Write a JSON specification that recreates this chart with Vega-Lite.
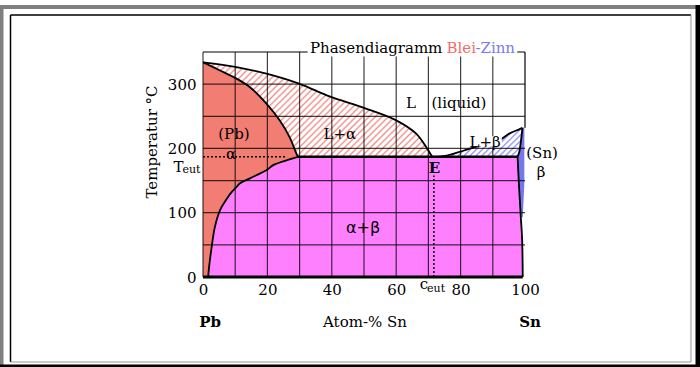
{
 "$schema": "https://vega.github.io/schema/vega-lite/v6.json",
 "width": 322, "height": 225,
 "autosize": {"type": "none"},
 "padding": {"left": 203, "top": 52, "right": 175, "bottom": 90},
 "background": "#ffffff",
 "config": {
  "view": {"stroke": null},
  "text": {"font": "DejaVu Serif", "fontSize": 15, "color": "#000", "baseline": "middle"},
  "axis": {"title": null, "domain": false, "ticks": false, "grid": false, "labelFont": "DejaVu Serif", "labelFontSize": 15, "labelColor": "#000", "labelFlush": false, "labelOverlap": false},
  "axisX": {"labelPadding": 5},
  "axisY": {"labelPadding": 7}
 },
 "encoding": {
  "x": {"field": "x", "type": "quantitative", "scale": {"domain": [0, 100], "nice": false, "zero": false}, "axis": {"values": [0, 20, 40, 60, 80, 100], "labelOverlap": false}},
  "y": {"field": "y", "type": "quantitative", "scale": {"domain": [0, 350], "nice": false, "zero": false}, "axis": {"values": [0, 100, 200, 300], "labelOverlap": false}}
 },
 "datasets": {
  "polys": [
   {"r":"a","x":0,"y":0},{"r":"a","x":0,"y":334},{"r":"a","x":5,"y":322},{"r":"a","x":10.4,"y":308.6},{"r":"a","x":14.5,"y":295.5},{"r":"a","x":19.7,"y":269.7},{"r":"a","x":23.8,"y":243.7},{"r":"a","x":26.9,"y":217.7},{"r":"a","x":29,"y":192},{"r":"a","x":29.5,"y":187},{"r":"a","x":25.9,"y":181.5},{"r":"a","x":21.8,"y":174},{"r":"a","x":19.8,"y":166.4},{"r":"a","x":14.6,"y":153.5},{"r":"a","x":11.5,"y":145.8},{"r":"a","x":10.5,"y":140.5},{"r":"a","x":8.4,"y":129},{"r":"a","x":6.8,"y":117},{"r":"a","x":5.3,"y":104},{"r":"a","x":3.7,"y":78},{"r":"a","x":2.7,"y":47},{"r":"a","x":1.9,"y":16},{"r":"a","x":1.6,"y":0},
   {"r":"ab","x":29.5,"y":187},{"r":"ab","x":97.7,"y":187},{"r":"ab","x":98.1,"y":145},{"r":"ab","x":98.7,"y":93},{"r":"ab","x":99.1,"y":60},{"r":"ab","x":99.3,"y":0},{"r":"ab","x":1.6,"y":0},{"r":"ab","x":1.9,"y":16},{"r":"ab","x":2.7,"y":47},{"r":"ab","x":3.7,"y":78},{"r":"ab","x":5.3,"y":104},{"r":"ab","x":6.8,"y":117},{"r":"ab","x":8.4,"y":129},{"r":"ab","x":10.5,"y":140.5},{"r":"ab","x":11.5,"y":145.8},{"r":"ab","x":14.6,"y":153.5},{"r":"ab","x":19.8,"y":166.4},{"r":"ab","x":21.8,"y":174},{"r":"ab","x":25.9,"y":181.5},
   {"r":"b","x":99.2,"y":232},{"r":"b","x":99.8,"y":233},{"r":"b","x":99.8,"y":190},{"r":"b","x":99.8,"y":145},{"r":"b","x":99.3,"y":93},{"r":"b","x":98.7,"y":93},{"r":"b","x":98.1,"y":145},{"r":"b","x":97.7,"y":187},{"r":"b","x":98.2,"y":194},{"r":"b","x":98.7,"y":210},
   {"r":"la","x":0,"y":334},{"r":"la","x":10.4,"y":326.6},{"r":"la","x":19.7,"y":316.3},{"r":"la","x":30,"y":300.5},{"r":"la","x":39.3,"y":281},{"r":"la","x":50,"y":263},{"r":"la","x":60,"y":243.7},{"r":"la","x":66.2,"y":223},{"r":"la","x":69.3,"y":202.2},{"r":"la","x":70.8,"y":190},{"r":"la","x":71.3,"y":187},{"r":"la","x":29.5,"y":187},{"r":"la","x":29,"y":192},{"r":"la","x":26.9,"y":217.7},{"r":"la","x":23.8,"y":243.7},{"r":"la","x":19.7,"y":269.7},{"r":"la","x":14.5,"y":295.5},{"r":"la","x":10.4,"y":308.6},{"r":"la","x":5,"y":322},
   {"r":"lb","x":71.3,"y":187},{"r":"lb","x":75.3,"y":188.5},{"r":"lb","x":80.6,"y":196},{"r":"lb","x":86,"y":204.5},{"r":"lb","x":92,"y":212.6},{"r":"lb","x":95.1,"y":223},{"r":"lb","x":98.2,"y":229.7},{"r":"lb","x":99.2,"y":232},{"r":"lb","x":98.7,"y":210},{"r":"lb","x":98.2,"y":194},{"r":"lb","x":97.7,"y":187}
  ],
  "curves": [
   {"c":"LL","x":0,"y":334},{"c":"LL","x":10.4,"y":326.6},{"c":"LL","x":19.7,"y":316.3},{"c":"LL","x":30,"y":300.5},{"c":"LL","x":39.3,"y":281},{"c":"LL","x":50,"y":263},{"c":"LL","x":60,"y":243.7},{"c":"LL","x":66.2,"y":223},{"c":"LL","x":69.3,"y":202.2},{"c":"LL","x":70.8,"y":190},{"c":"LL","x":71.3,"y":187},
   {"c":"S","x":0,"y":334},{"c":"S","x":5,"y":322},{"c":"S","x":10.4,"y":308.6},{"c":"S","x":14.5,"y":295.5},{"c":"S","x":19.7,"y":269.7},{"c":"S","x":23.8,"y":243.7},{"c":"S","x":26.9,"y":217.7},{"c":"S","x":29,"y":192},{"c":"S","x":29.5,"y":187},
   {"c":"SV","x":29.5,"y":187},{"c":"SV","x":25.9,"y":181.5},{"c":"SV","x":21.8,"y":174},{"c":"SV","x":19.8,"y":166.4},{"c":"SV","x":14.6,"y":153.5},{"c":"SV","x":11.5,"y":145.8},{"c":"SV","x":10.5,"y":140.5},{"c":"SV","x":8.4,"y":129},{"c":"SV","x":6.8,"y":117},{"c":"SV","x":5.3,"y":104},{"c":"SV","x":3.7,"y":78},{"c":"SV","x":2.7,"y":47},{"c":"SV","x":1.9,"y":16},{"c":"SV","x":1.6,"y":0},
   {"c":"RL","x":71.3,"y":187},{"c":"RL","x":75.3,"y":188.5},{"c":"RL","x":80.6,"y":196},{"c":"RL","x":86,"y":204.5},{"c":"RL","x":92,"y":212.6},{"c":"RL","x":95.1,"y":223},{"c":"RL","x":98.2,"y":229.7},{"c":"RL","x":99.2,"y":232},
   {"c":"BS","x":99.2,"y":232},{"c":"BS","x":98.7,"y":210},{"c":"BS","x":98.2,"y":194},{"c":"BS","x":97.7,"y":187},
   {"c":"BV","x":97.7,"y":187},{"c":"BV","x":98.1,"y":145},{"c":"BV","x":98.7,"y":93},{"c":"BV","x":99.1,"y":60},{"c":"BV","x":99.3,"y":0}
  ],
  "eut": [{"x":29.5,"y":187},{"x":97.7,"y":187}],
  "vrules": [
   {"k":"g","x":0,"y":0,"y2":350},{"k":"g","x":10,"y":0,"y2":350},{"k":"g","x":20,"y":0,"y2":350},{"k":"g","x":30,"y":0,"y2":350},{"k":"g","x":40,"y":0,"y2":350},{"k":"g","x":50,"y":0,"y2":350},{"k":"g","x":60,"y":0,"y2":350},{"k":"g","x":70,"y":0,"y2":350},{"k":"g","x":80,"y":0,"y2":350},{"k":"g","x":90,"y":0,"y2":350},
   {"k":"border","x":100,"y":232,"y2":350},
   {"k":"dot","x":71.7,"y":0,"y2":158},
   {"k":"outerGray","x":-62.5,"y":-140,"y2":423.1},
   {"k":"outerBlack","x":153.65,"y":-140,"y2":423.1},
   {"k":"innerBlack","x":-59.78,"y":-132.2,"y2":407.6},
   {"k":"innerGray","x":151.55,"y":-132.2,"y2":407.6}
  ],
  "hrules": [
   {"k":"g","y":50,"x":0,"x2":100},{"k":"g","y":100,"x":0,"x2":100},{"k":"g","y":150,"x":0,"x2":100},{"k":"g","y":200,"x":0,"x2":100},{"k":"g","y":250,"x":0,"x2":100},{"k":"g","y":300,"x":0,"x2":100},
   {"k":"border","y":350,"x":0,"x2":100},
   {"k":"axis","y":0,"x":0,"x2":99.3},
   {"k":"dot","y":187,"x":0,"x2":26},
   {"k":"outerGray","y":420,"x":-63.04,"x2":153.1},
   {"k":"outerBlack","y":-138.06,"x":-63.04,"x2":154.4},
   {"k":"innerBlack","y":407.6,"x":-59.78,"x2":151.55},
   {"k":"innerGray","y":-132.2,"x":-59.78,"x2":151.55}
  ],
  "boxes": [{"x":32.5,"x2":97.6,"y":343,"y2":368},{"x":82.2,"x2":92.8,"y":203,"y2":219}],
  "lbl": [
   {"g":"s","t":"(Pb)","x":9.6,"y":222.4},
   {"g":"s","t":"α","x":8.7,"y":191.3},
   {"g":"s","t":"L+α","x":42.5,"y":223.2},
   {"g":"s","t":"L","x":64.6,"y":271.4},
   {"g":"s","t":"(liquid)","x":79.5,"y":271.4},
   {"g":"s","t":"L+β","x":87.6,"y":210.5},
   {"g":"s","t":"(Sn)","x":105.3,"y":192.9},
   {"g":"s","t":"β","x":105,"y":162.6},
   {"g":"s","t":"T","x":-7.6,"y":171.1},
   {"g":"s","t":"c","x":68.6,"y":-10.9},
   {"g":"e","t":"eut","x":-6.4,"y":167.2},
   {"g":"e","t":"eut","x":69.6,"y":-18.7},
   {"g":"b","t":"E","x":71.9,"y":170.3},
   {"g":"b","t":"Pb","x":2.2,"y":-70},
   {"g":"b","t":"Sn","x":101.6,"y":-70},
   {"g":"n","t":"Atom-% Sn","x":50.3,"y":-70},
   {"g":"ss","t":"α+β","x":49.7,"y":77},
   {"g":"yt","t":"Temperatur °C","x":-15.8,"y":210},
   {"g":"t0","t":"Phasendiagramm","x":33.2,"y":356.2},
   {"g":"t1","t":"Blei","x":75.6,"y":356.2},
   {"g":"t2","t":"-Zinn","x":84.6,"y":356.2}
  ]
 },
 "layer": [
  {"data": {"name": "polys"}, "transform": [{"filter": "datum.r === 'a'"}], "mark": {"type": "line", "fill": "#f27d72", "strokeOpacity": 0}, "encoding": {"order": {"value": null}}},
  {"data": {"name": "polys"}, "transform": [{"filter": "datum.r === 'ab'"}], "mark": {"type": "line", "fill": "#ff80ff", "strokeOpacity": 0}, "encoding": {"order": {"value": null}}},
  {"data": {"name": "polys"}, "transform": [{"filter": "datum.r === 'b'"}], "mark": {"type": "line", "fill": "#7676ee", "strokeOpacity": 0}, "encoding": {"order": {"value": null}}},
  {"data": {"name": "polys"}, "transform": [{"filter": "datum.r === 'la'"}], "mark": {"type": "line", "strokeOpacity": 0, "fill": {"gradient": "linear", "x1": 0, "y1": 0, "x2": 1.207, "y2": 0.497, "stops": [
   {"offset":0,"color":"#ef8f89"},{"offset":0.006,"color":"#fff"},{"offset":0.014,"color":"#fff"},
   {"offset":0.02,"color":"#ef8f89"},{"offset":0.026,"color":"#fff"},{"offset":0.034,"color":"#fff"},
   {"offset":0.04,"color":"#ef8f89"},{"offset":0.046,"color":"#fff"},{"offset":0.054,"color":"#fff"},
   {"offset":0.06,"color":"#ef8f89"},{"offset":0.066,"color":"#fff"},{"offset":0.074,"color":"#fff"},
   {"offset":0.08,"color":"#ef8f89"},{"offset":0.086,"color":"#fff"},{"offset":0.094,"color":"#fff"},
   {"offset":0.1,"color":"#ef8f89"},{"offset":0.106,"color":"#fff"},{"offset":0.114,"color":"#fff"},
   {"offset":0.12,"color":"#ef8f89"},{"offset":0.126,"color":"#fff"},{"offset":0.134,"color":"#fff"},
   {"offset":0.14,"color":"#ef8f89"},{"offset":0.146,"color":"#fff"},{"offset":0.154,"color":"#fff"},
   {"offset":0.16,"color":"#ef8f89"},{"offset":0.166,"color":"#fff"},{"offset":0.174,"color":"#fff"},
   {"offset":0.18,"color":"#ef8f89"},{"offset":0.186,"color":"#fff"},{"offset":0.194,"color":"#fff"},
   {"offset":0.2,"color":"#ef8f89"},{"offset":0.206,"color":"#fff"},{"offset":0.214,"color":"#fff"},
   {"offset":0.22,"color":"#ef8f89"},{"offset":0.226,"color":"#fff"},{"offset":0.234,"color":"#fff"},
   {"offset":0.24,"color":"#ef8f89"},{"offset":0.246,"color":"#fff"},{"offset":0.254,"color":"#fff"},
   {"offset":0.26,"color":"#ef8f89"},{"offset":0.266,"color":"#fff"},{"offset":0.274,"color":"#fff"},
   {"offset":0.28,"color":"#ef8f89"},{"offset":0.286,"color":"#fff"},{"offset":0.294,"color":"#fff"},
   {"offset":0.3,"color":"#ef8f89"},{"offset":0.306,"color":"#fff"},{"offset":0.314,"color":"#fff"},
   {"offset":0.32,"color":"#ef8f89"},{"offset":0.326,"color":"#fff"},{"offset":0.334,"color":"#fff"},
   {"offset":0.34,"color":"#ef8f89"},{"offset":0.346,"color":"#fff"},{"offset":0.354,"color":"#fff"},
   {"offset":0.36,"color":"#ef8f89"},{"offset":0.366,"color":"#fff"},{"offset":0.374,"color":"#fff"},
   {"offset":0.38,"color":"#ef8f89"},{"offset":0.386,"color":"#fff"},{"offset":0.394,"color":"#fff"},
   {"offset":0.4,"color":"#ef8f89"},{"offset":0.406,"color":"#fff"},{"offset":0.414,"color":"#fff"},
   {"offset":0.42,"color":"#ef8f89"},{"offset":0.426,"color":"#fff"},{"offset":0.434,"color":"#fff"},
   {"offset":0.44,"color":"#ef8f89"},{"offset":0.446,"color":"#fff"},{"offset":0.454,"color":"#fff"},
   {"offset":0.46,"color":"#ef8f89"},{"offset":0.466,"color":"#fff"},{"offset":0.474,"color":"#fff"},
   {"offset":0.48,"color":"#ef8f89"},{"offset":0.486,"color":"#fff"},{"offset":0.494,"color":"#fff"},
   {"offset":0.5,"color":"#ef8f89"},{"offset":0.506,"color":"#fff"},{"offset":0.514,"color":"#fff"},
   {"offset":0.52,"color":"#ef8f89"},{"offset":0.526,"color":"#fff"},{"offset":0.534,"color":"#fff"},
   {"offset":0.54,"color":"#ef8f89"},{"offset":0.546,"color":"#fff"},{"offset":0.554,"color":"#fff"},
   {"offset":0.56,"color":"#ef8f89"},{"offset":0.566,"color":"#fff"},{"offset":0.574,"color":"#fff"},
   {"offset":0.58,"color":"#ef8f89"},{"offset":0.586,"color":"#fff"},{"offset":0.594,"color":"#fff"},
   {"offset":0.6,"color":"#ef8f89"},{"offset":0.606,"color":"#fff"},{"offset":0.614,"color":"#fff"},
   {"offset":0.62,"color":"#ef8f89"},{"offset":0.626,"color":"#fff"},{"offset":0.634,"color":"#fff"},
   {"offset":0.64,"color":"#ef8f89"},{"offset":0.646,"color":"#fff"},{"offset":0.654,"color":"#fff"},
   {"offset":0.66,"color":"#ef8f89"},{"offset":0.666,"color":"#fff"},{"offset":0.674,"color":"#fff"},
   {"offset":0.68,"color":"#ef8f89"},{"offset":0.686,"color":"#fff"},{"offset":0.694,"color":"#fff"},
   {"offset":0.7,"color":"#ef8f89"},{"offset":0.706,"color":"#fff"},{"offset":0.714,"color":"#fff"},
   {"offset":0.72,"color":"#ef8f89"},{"offset":0.726,"color":"#fff"},{"offset":0.734,"color":"#fff"},
   {"offset":0.74,"color":"#ef8f89"},{"offset":0.746,"color":"#fff"},{"offset":0.754,"color":"#fff"},
   {"offset":0.76,"color":"#ef8f89"},{"offset":0.766,"color":"#fff"},{"offset":0.774,"color":"#fff"},
   {"offset":0.78,"color":"#ef8f89"},{"offset":0.786,"color":"#fff"},{"offset":0.794,"color":"#fff"},
   {"offset":0.8,"color":"#ef8f89"},{"offset":0.806,"color":"#fff"},{"offset":0.814,"color":"#fff"},
   {"offset":0.82,"color":"#ef8f89"},{"offset":0.826,"color":"#fff"},{"offset":0.834,"color":"#fff"},
   {"offset":0.84,"color":"#ef8f89"},{"offset":0.846,"color":"#fff"},{"offset":0.854,"color":"#fff"},
   {"offset":0.86,"color":"#ef8f89"},{"offset":0.866,"color":"#fff"},{"offset":0.874,"color":"#fff"},
   {"offset":0.88,"color":"#ef8f89"},{"offset":0.886,"color":"#fff"},{"offset":0.894,"color":"#fff"},
   {"offset":0.9,"color":"#ef8f89"},{"offset":0.906,"color":"#fff"},{"offset":0.914,"color":"#fff"},
   {"offset":0.92,"color":"#ef8f89"},{"offset":0.926,"color":"#fff"},{"offset":0.934,"color":"#fff"},
   {"offset":0.94,"color":"#ef8f89"},{"offset":0.946,"color":"#fff"},{"offset":0.954,"color":"#fff"},
   {"offset":0.96,"color":"#ef8f89"},{"offset":0.966,"color":"#fff"},{"offset":0.974,"color":"#fff"},
   {"offset":0.98,"color":"#ef8f89"},{"offset":0.986,"color":"#fff"},{"offset":0.994,"color":"#fff"},
   {"offset":1,"color":"#ef8f89"}
  ]}}, "encoding": {"order": {"value": null}}},
  {"data": {"name": "polys"}, "transform": [{"filter": "datum.r === 'lb'"}], "mark": {"type": "line", "strokeOpacity": 0, "fill": {"gradient": "linear", "x1": 0, "y1": 0, "x2": 1.198, "y2": 0.386, "stops": [
   {"offset":0,"color":"#8a8af0"},{"offset":0.015,"color":"#fff"},{"offset":0.035,"color":"#fff"},
   {"offset":0.05,"color":"#8a8af0"},{"offset":0.065,"color":"#fff"},{"offset":0.085,"color":"#fff"},
   {"offset":0.1,"color":"#8a8af0"},{"offset":0.115,"color":"#fff"},{"offset":0.135,"color":"#fff"},
   {"offset":0.15,"color":"#8a8af0"},{"offset":0.165,"color":"#fff"},{"offset":0.185,"color":"#fff"},
   {"offset":0.2,"color":"#8a8af0"},{"offset":0.215,"color":"#fff"},{"offset":0.235,"color":"#fff"},
   {"offset":0.25,"color":"#8a8af0"},{"offset":0.265,"color":"#fff"},{"offset":0.285,"color":"#fff"},
   {"offset":0.3,"color":"#8a8af0"},{"offset":0.315,"color":"#fff"},{"offset":0.335,"color":"#fff"},
   {"offset":0.35,"color":"#8a8af0"},{"offset":0.365,"color":"#fff"},{"offset":0.385,"color":"#fff"},
   {"offset":0.4,"color":"#8a8af0"},{"offset":0.415,"color":"#fff"},{"offset":0.435,"color":"#fff"},
   {"offset":0.45,"color":"#8a8af0"},{"offset":0.465,"color":"#fff"},{"offset":0.485,"color":"#fff"},
   {"offset":0.5,"color":"#8a8af0"},{"offset":0.515,"color":"#fff"},{"offset":0.535,"color":"#fff"},
   {"offset":0.55,"color":"#8a8af0"},{"offset":0.565,"color":"#fff"},{"offset":0.585,"color":"#fff"},
   {"offset":0.6,"color":"#8a8af0"},{"offset":0.615,"color":"#fff"},{"offset":0.635,"color":"#fff"},
   {"offset":0.65,"color":"#8a8af0"},{"offset":0.665,"color":"#fff"},{"offset":0.685,"color":"#fff"},
   {"offset":0.7,"color":"#8a8af0"},{"offset":0.715,"color":"#fff"},{"offset":0.735,"color":"#fff"},
   {"offset":0.75,"color":"#8a8af0"},{"offset":0.765,"color":"#fff"},{"offset":0.785,"color":"#fff"},
   {"offset":0.8,"color":"#8a8af0"},{"offset":0.815,"color":"#fff"},{"offset":0.835,"color":"#fff"},
   {"offset":0.85,"color":"#8a8af0"},{"offset":0.865,"color":"#fff"},{"offset":0.885,"color":"#fff"},
   {"offset":0.9,"color":"#8a8af0"},{"offset":0.915,"color":"#fff"},{"offset":0.935,"color":"#fff"},
   {"offset":0.95,"color":"#8a8af0"},{"offset":0.965,"color":"#fff"},{"offset":0.985,"color":"#fff"},
   {"offset":1,"color":"#8a8af0"}
  ]}}, "encoding": {"order": {"value": null}}},
  {"data": {"name": "vrules"}, "transform": [{"filter": "datum.k === 'g'"}], "mark": {"type": "rule", "color": "#000", "strokeWidth": 1.2, "strokeOpacity": 0.75}, "encoding": {"y2": {"field": "y2"}}},
  {"data": {"name": "hrules"}, "transform": [{"filter": "datum.k === 'g'"}], "mark": {"type": "rule", "color": "#000", "strokeWidth": 1.2, "strokeOpacity": 0.75}, "encoding": {"x2": {"field": "x2"}}},
  {"data": {"name": "vrules"}, "transform": [{"filter": "datum.k === 'border'"}], "mark": {"type": "rule", "color": "#000", "strokeWidth": 1.2}, "encoding": {"y2": {"field": "y2"}}},
  {"data": {"name": "hrules"}, "transform": [{"filter": "datum.k === 'border'"}], "mark": {"type": "rule", "color": "#000", "strokeWidth": 1.2}, "encoding": {"x2": {"field": "x2"}}},
  {"data": {"name": "curves"}, "mark": {"type": "line", "color": "#000", "strokeWidth": 1.8, "interpolate": "catmull-rom"}, "encoding": {"detail": {"field": "c"}, "order": {"value": null}}},
  {"data": {"name": "eut"}, "mark": {"type": "line", "color": "#000", "strokeWidth": 2.5}, "encoding": {}},
  {"data": {"name": "hrules"}, "transform": [{"filter": "datum.k === 'axis'"}], "mark": {"type": "rule", "color": "#000", "strokeWidth": 3}, "encoding": {"x2": {"field": "x2"}}},
  {"data": {"name": "hrules"}, "transform": [{"filter": "datum.k === 'dot'"}], "mark": {"type": "rule", "color": "#000", "strokeWidth": 1.5, "strokeDash": [2, 2]}, "encoding": {"x2": {"field": "x2"}}},
  {"data": {"name": "vrules"}, "transform": [{"filter": "datum.k === 'dot'"}], "mark": {"type": "rule", "color": "#000", "strokeWidth": 1.5, "strokeDash": [2, 2]}, "encoding": {"y2": {"field": "y2"}}},
  {"data": {"name": "boxes"}, "mark": {"type": "rect", "color": "#fff"}, "encoding": {"x2": {"field": "x2"}, "y2": {"field": "y2"}}},
  {"data": {"name": "lbl"}, "transform": [{"filter": "datum.g === 't0'"}], "mark": {"type": "text", "align": "left"}, "encoding": {"text": {"field": "t"}}},
  {"data": {"name": "lbl"}, "transform": [{"filter": "datum.g === 't1'"}], "mark": {"type": "text", "align": "left", "color": "#f36b6b"}, "encoding": {"text": {"field": "t"}}},
  {"data": {"name": "lbl"}, "transform": [{"filter": "datum.g === 't2'"}], "mark": {"type": "text", "align": "left", "color": "#7a7af0"}, "encoding": {"text": {"field": "t"}}},
  {"data": {"name": "lbl"}, "transform": [{"filter": "datum.g === 's'"}], "mark": {"type": "text"}, "encoding": {"text": {"field": "t"}}},
  {"data": {"name": "lbl"}, "transform": [{"filter": "datum.g === 'e'"}], "mark": {"type": "text", "align": "left", "fontSize": 11}, "encoding": {"text": {"field": "t"}}},
  {"data": {"name": "lbl"}, "transform": [{"filter": "datum.g === 'b'"}], "mark": {"type": "text", "fontWeight": "bold"}, "encoding": {"text": {"field": "t"}}},
  {"data": {"name": "lbl"}, "transform": [{"filter": "datum.g === 'n'"}], "mark": {"type": "text"}, "encoding": {"text": {"field": "t"}}},
  {"data": {"name": "lbl"}, "transform": [{"filter": "datum.g === 'ss'"}], "mark": {"type": "text", "font": "DejaVu Sans", "fontSize": 16}, "encoding": {"text": {"field": "t"}}},
  {"data": {"name": "lbl"}, "transform": [{"filter": "datum.g === 'yt'"}], "mark": {"type": "text", "angle": 270}, "encoding": {"text": {"field": "t"}}},
  {"data": {"name": "vrules"}, "transform": [{"filter": "datum.k === 'outerGray'"}], "mark": {"type": "rule", "color": "#808080", "strokeWidth": 3.5}, "encoding": {"y2": {"field": "y2"}}},
  {"data": {"name": "hrules"}, "transform": [{"filter": "datum.k === 'outerGray'"}], "mark": {"type": "rule", "color": "#808080", "strokeWidth": 4}, "encoding": {"x2": {"field": "x2"}}},
  {"data": {"name": "vrules"}, "transform": [{"filter": "datum.k === 'outerBlack'"}], "mark": {"type": "rule", "color": "#000", "strokeWidth": 4.5}, "encoding": {"y2": {"field": "y2"}}},
  {"data": {"name": "hrules"}, "transform": [{"filter": "datum.k === 'outerBlack'"}], "mark": {"type": "rule", "color": "#000", "strokeWidth": 2.5}, "encoding": {"x2": {"field": "x2"}}},
  {"data": {"name": "vrules"}, "transform": [{"filter": "datum.k === 'innerBlack'"}], "mark": {"type": "rule", "color": "#000", "strokeWidth": 1.5}, "encoding": {"y2": {"field": "y2"}}},
  {"data": {"name": "hrules"}, "transform": [{"filter": "datum.k === 'innerBlack'"}], "mark": {"type": "rule", "color": "#000", "strokeWidth": 1.5}, "encoding": {"x2": {"field": "x2"}}},
  {"data": {"name": "vrules"}, "transform": [{"filter": "datum.k === 'innerGray'"}], "mark": {"type": "rule", "color": "#999", "strokeWidth": 1}, "encoding": {"y2": {"field": "y2"}}},
  {"data": {"name": "hrules"}, "transform": [{"filter": "datum.k === 'innerGray'"}], "mark": {"type": "rule", "color": "#999", "strokeWidth": 1}, "encoding": {"x2": {"field": "x2"}}}
 ]
}
